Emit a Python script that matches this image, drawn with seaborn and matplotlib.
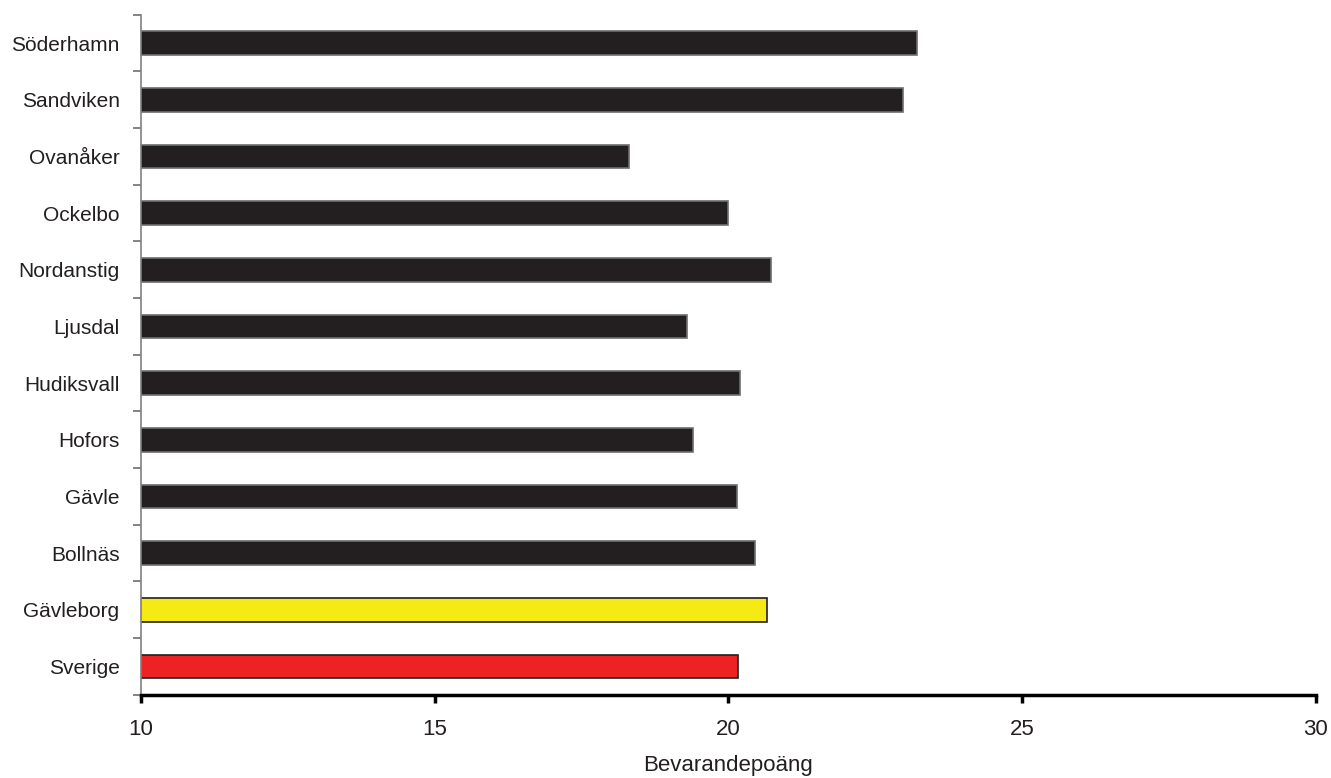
import numpy as np
import pandas as pd
import matplotlib
matplotlib.use('Agg')
import matplotlib.pyplot as plt
import seaborn as sns

kommuner = ['Söderhamn', 'Sandviken', 'Ovanåker', 'Ockelbo', 'Nordanstig', 'Ljusdal',
            'Hudiksvall', 'Hofors', 'Gävle', 'Bollnäs', 'Gävleborg', 'Sverige']
poang = [23.21, 22.97, 18.30, 20.00, 20.72, 19.30, 20.20, 19.39, 20.14, 20.45, 20.66, 20.17]
farger = ['#231f20'] * 10 + ['#f5ea14', '#ed2224']
kanter = ['#6d6e70'] * 10 + ['#231f20', '#231f20']
xticks = [10, 15, 20, 25, 30]

sns.set_style('white')
plt.rcParams['font.family'] = ['Liberation Sans', 'DejaVu Sans']
textfarg = '#231f20'

df = pd.DataFrame({'Kommun': kommuner, 'Poäng': poang})

fig, ax = plt.subplots(figsize=(13.31, 7.78), dpi=100)
fig.subplots_adjust(left=0.106, right=0.9885, top=0.981, bottom=0.107)

sns.barplot(data=df, x='Poäng', y='Kommun', hue='Kommun', palette=farger,
            legend=False, width=0.42, saturation=1, ax=ax)
for cont, ec in zip(ax.containers, kanter):
    for p in cont:
        p.set_edgecolor(ec)
        p.set_linewidth(1.2)

ax.set_xlim(10, 30)
ax.set_ylim(11.5, -0.5)
ax.set_xticks(xticks)
ax.set_xticklabels([str(t) for t in xticks], fontsize=16, color=textfarg)
ax.tick_params(axis='x', bottom=True, direction='out', length=6, width=2.5,
               color='black', pad=11.5)

ax.set_yticks(range(len(kommuner)))
ax.set_yticklabels(kommuner, fontsize=15, color=textfarg)
ax.set_yticks(np.arange(-0.5, len(kommuner), 1), minor=True)
ax.tick_params(axis='y', which='major', left=True, length=0, pad=15.5)
ax.tick_params(axis='y', which='minor', left=True, length=6, width=1.2,
               color='#6d6e70', direction='out')

for s in ['top', 'right']:
    ax.spines[s].set_visible(False)
ax.spines['left'].set_color('#808080')
ax.spines['left'].set_linewidth(1.2)
ax.spines['bottom'].set_color('black')
ax.spines['bottom'].set_linewidth(2.5)

ax.set_xlabel('Bevarandepoäng', fontsize=16, color=textfarg, labelpad=11)
ax.set_ylabel('')

fig.savefig('out.png', dpi=100)
